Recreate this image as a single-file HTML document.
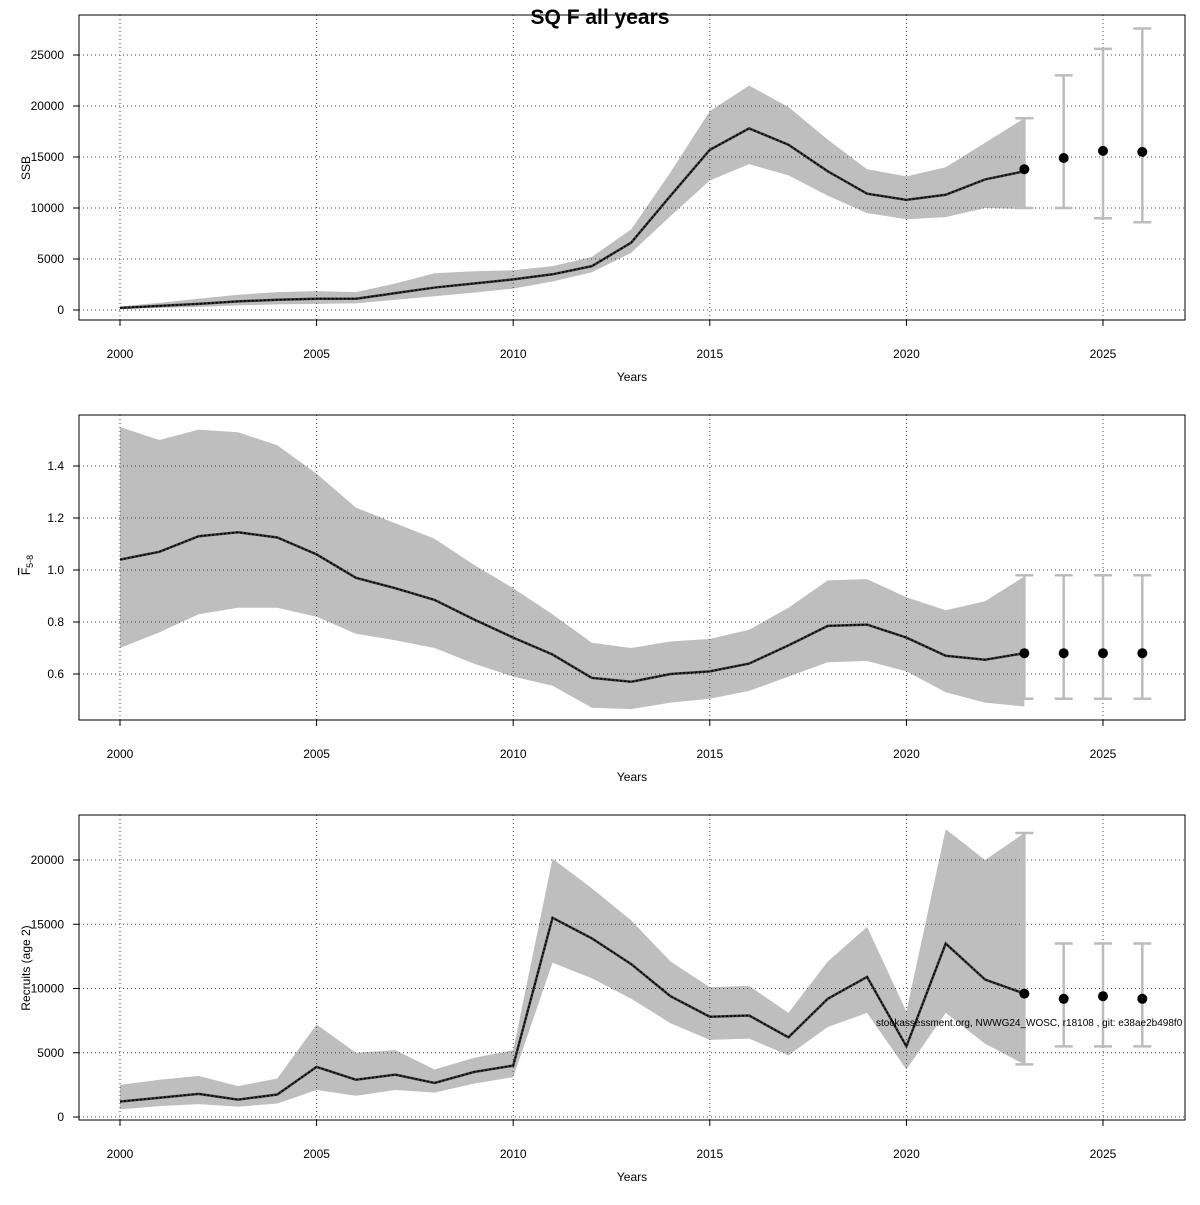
<!DOCTYPE html>
<html><head><meta charset="utf-8"><style>
body{margin:0;background:#fff}
svg{font-family:"Liberation Sans",sans-serif}
</style></head><body>
<svg id="c" width="1200" height="1200" xmlns="http://www.w3.org/2000/svg">
<text x="600" y="24" text-anchor="middle" font-size="21" font-weight="bold">SQ F all years</text>
</svg>
<script>
const years=[2000,2001,2002,2003,2004,2005,2006,2007,2008,2009,2010,2011,2012,2013,2014,2015,2016,2017,2018,2019,2020,2021,2022,2023];
const projYears=[2023,2024,2025,2026];
const ssb=[200,400,600,850,1000,1100,1100,1650,2200,2600,3000,3500,4300,6600,11200,15700,17800,16200,13600,11400,10800,11300,12800,13600];
const ssbLo=[100,200,300,450,550,600,650,1000,1350,1700,2100,2800,3700,5600,9200,12700,14300,13200,11200,9500,8900,9100,10000,9900];
const ssbHi=[350,700,1100,1500,1750,1850,1750,2600,3600,3800,3900,4300,5200,7900,13500,19500,22000,19900,16700,13800,13100,14000,16400,18800];
const ssbProj=[13800,14900,15600,15500];
const ssbProjLo=[10000,10000,9000,8600];
const ssbProjHi=[18800,23000,25600,27600];
const fbar=[1.04,1.07,1.13,1.145,1.125,1.06,0.97,0.93,0.885,0.81,0.74,0.675,0.585,0.57,0.60,0.61,0.64,0.71,0.785,0.79,0.74,0.67,0.655,0.68];
const fLo=[0.70,0.76,0.83,0.855,0.855,0.82,0.755,0.73,0.70,0.64,0.59,0.555,0.47,0.465,0.49,0.505,0.535,0.59,0.645,0.65,0.61,0.53,0.49,0.475];
const fHi=[1.55,1.50,1.54,1.53,1.48,1.37,1.24,1.18,1.12,1.02,0.93,0.83,0.72,0.70,0.725,0.735,0.77,0.855,0.96,0.965,0.895,0.845,0.88,0.975];
const fProj=[0.68,0.68,0.68,0.68];
const fProjLo=[0.505,0.505,0.505,0.505];
const fProjHi=[0.98,0.98,0.98,0.98];
const rec=[1200,1500,1800,1350,1750,3900,2900,3300,2650,3500,4000,15500,13900,11900,9400,7800,7900,6200,9200,10900,5500,13500,10700,9600];
const recLo=[600,850,1000,800,1050,2100,1650,2100,1900,2600,3100,12000,10800,9200,7300,6000,6100,4800,7000,8100,3700,8100,5700,4100];
const recHi=[2500,2900,3200,2400,3000,7200,5000,5200,3700,4600,5200,20100,17800,15300,12100,10100,10200,8100,12100,14800,8200,22400,20000,22100];
const recProj=[9600,9200,9400,9200];
const recProjLo=[4100,5500,5500,5500];
const recProjHi=[22100,13500,13500,13500];
const xTicks=[2000,2005,2010,2015,2020,2025];
const ssbTicks=[0,5000,10000,15000,20000,25000];
const fTicks=[0.6,0.8,1.0,1.2,1.4];
const recTicks=[0,5000,10000,15000,20000];

const svg=document.getElementById('c');
const NS='http://www.w3.org/2000/svg';
function mk(t,a,p){const e=document.createElementNS(NS,t);for(const k in a)e.setAttribute(k,a[k]);(p||svg).appendChild(e);return e;}
const x=v=>120+(v-2000)*39.32;

function panel(name,top,bottom,y0v,y0p,y1v,y1p,ticks,fmt,label,data,lo,hi,pj,pjLo,pjHi,yl){
  const y=v=>y0p+(v-y0v)*(y1p-y0p)/(y1v-y0v);
  const g=mk('g',{});
  
  
  let d='';years.forEach((yr,i)=>d+=(i?'L':'M')+x(yr)+','+y(hi[i]));
  for(let i=years.length-1;i>=0;i--)d+='L'+x(years[i])+','+y(lo[i]);
  const band=mk('path',{d:d+'Z',fill:'#bebebe'},g);
  
  
  xTicks.forEach(t=>{mk('line',{x1:x(t),x2:x(t),y1:top,y2:bottom,stroke:'#444','stroke-dasharray':'1,3'},g);
    const tl=mk('text',{x:x(t),y:bottom+38,'text-anchor':'middle','font-size':12},g);tl.textContent=t;
    
    
    mk('line',{x1:x(t),x2:x(t),y1:bottom,y2:bottom+6,stroke:'#000'},g);});
  ticks.forEach(t=>{mk('line',{x1:79,x2:1185,y1:y(t),y2:y(t),stroke:'#444','stroke-dasharray':'1,3'},g);
    mk('line',{x1:73,x2:79,y1:y(t),y2:y(t),stroke:'#000'},g);
    const tl=mk('text',{x:64,y:y(t)+4,'text-anchor':'end','font-size':12},g);tl.textContent=fmt(t);
    
    });
  let l='';years.forEach((yr,i)=>l+=(i?'L':'M')+x(yr)+','+y(data[i]));
  mk('path',{d:l,fill:'none',stroke:'#3a3a3a','stroke-width':2.5},g);
  const ln=mk('path',{d:l,fill:'none',stroke:'#000','stroke-width':1.5,'stroke-dasharray':'2,2'},g);
  
  
  pj.forEach((v,i)=>{const px=x(projYears[i]);
    const eb=mk('g',{},g);
    
    
    mk('line',{x1:px,x2:px,y1:y(pjLo[i]),y2:y(pjHi[i]),stroke:'#bcbcbc','stroke-width':2.5},eb);
    mk('line',{x1:px-9,x2:px+9,y1:y(pjLo[i]),y2:y(pjLo[i]),stroke:'#bcbcbc','stroke-width':2.5},eb);
    mk('line',{x1:px-9,x2:px+9,y1:y(pjHi[i]),y2:y(pjHi[i]),stroke:'#bcbcbc','stroke-width':2.5},eb);
    const pt=mk('circle',{cx:px,cy:y(v),r:5,fill:'#000'},g);
    
    });
  mk('rect',{x:79,y:top,width:1106,height:bottom-top,fill:'none',stroke:'#000'},g);
  const xt=mk('text',{x:632,y:bottom+61,'text-anchor':'middle','font-size':12},g);xt.textContent='Years';
  
  
  const yt=mk('text',{x:0,y:0,'text-anchor':'middle','font-size':12,transform:'translate(30,'+yl[1]+') rotate(-90)'},g);
  yt.innerHTML=label;
  
  
}
panel('ssb',15,320,0,310,25000,55,ssbTicks,t=>t,'SSB',ssb,ssbLo,ssbHi,ssbProj,ssbProjLo,ssbProjHi,[0,168]);
panel('fbar',415,720,0.6,674,1.4,466,fTicks,t=>t.toFixed(1),'<tspan text-decoration="overline">F</tspan><tspan font-size="9" dy="3">5-8</tspan>',fbar,fLo,fHi,fProj,fProjLo,fProjHi,[0,565]);
panel('recruits',815,1120,0,1117,20000,860,recTicks,t=>t,'Recruits (age 2)',rec,recLo,recHi,recProj,recProjLo,recProjHi,[0,968]);
const ft=mk('text',{x:876,y:1026,'font-size':10});
ft.textContent='stockassessment.org, NWWG24_WOSC, r18108 , git: e38ae2b498f0';


</script>
</body></html>
